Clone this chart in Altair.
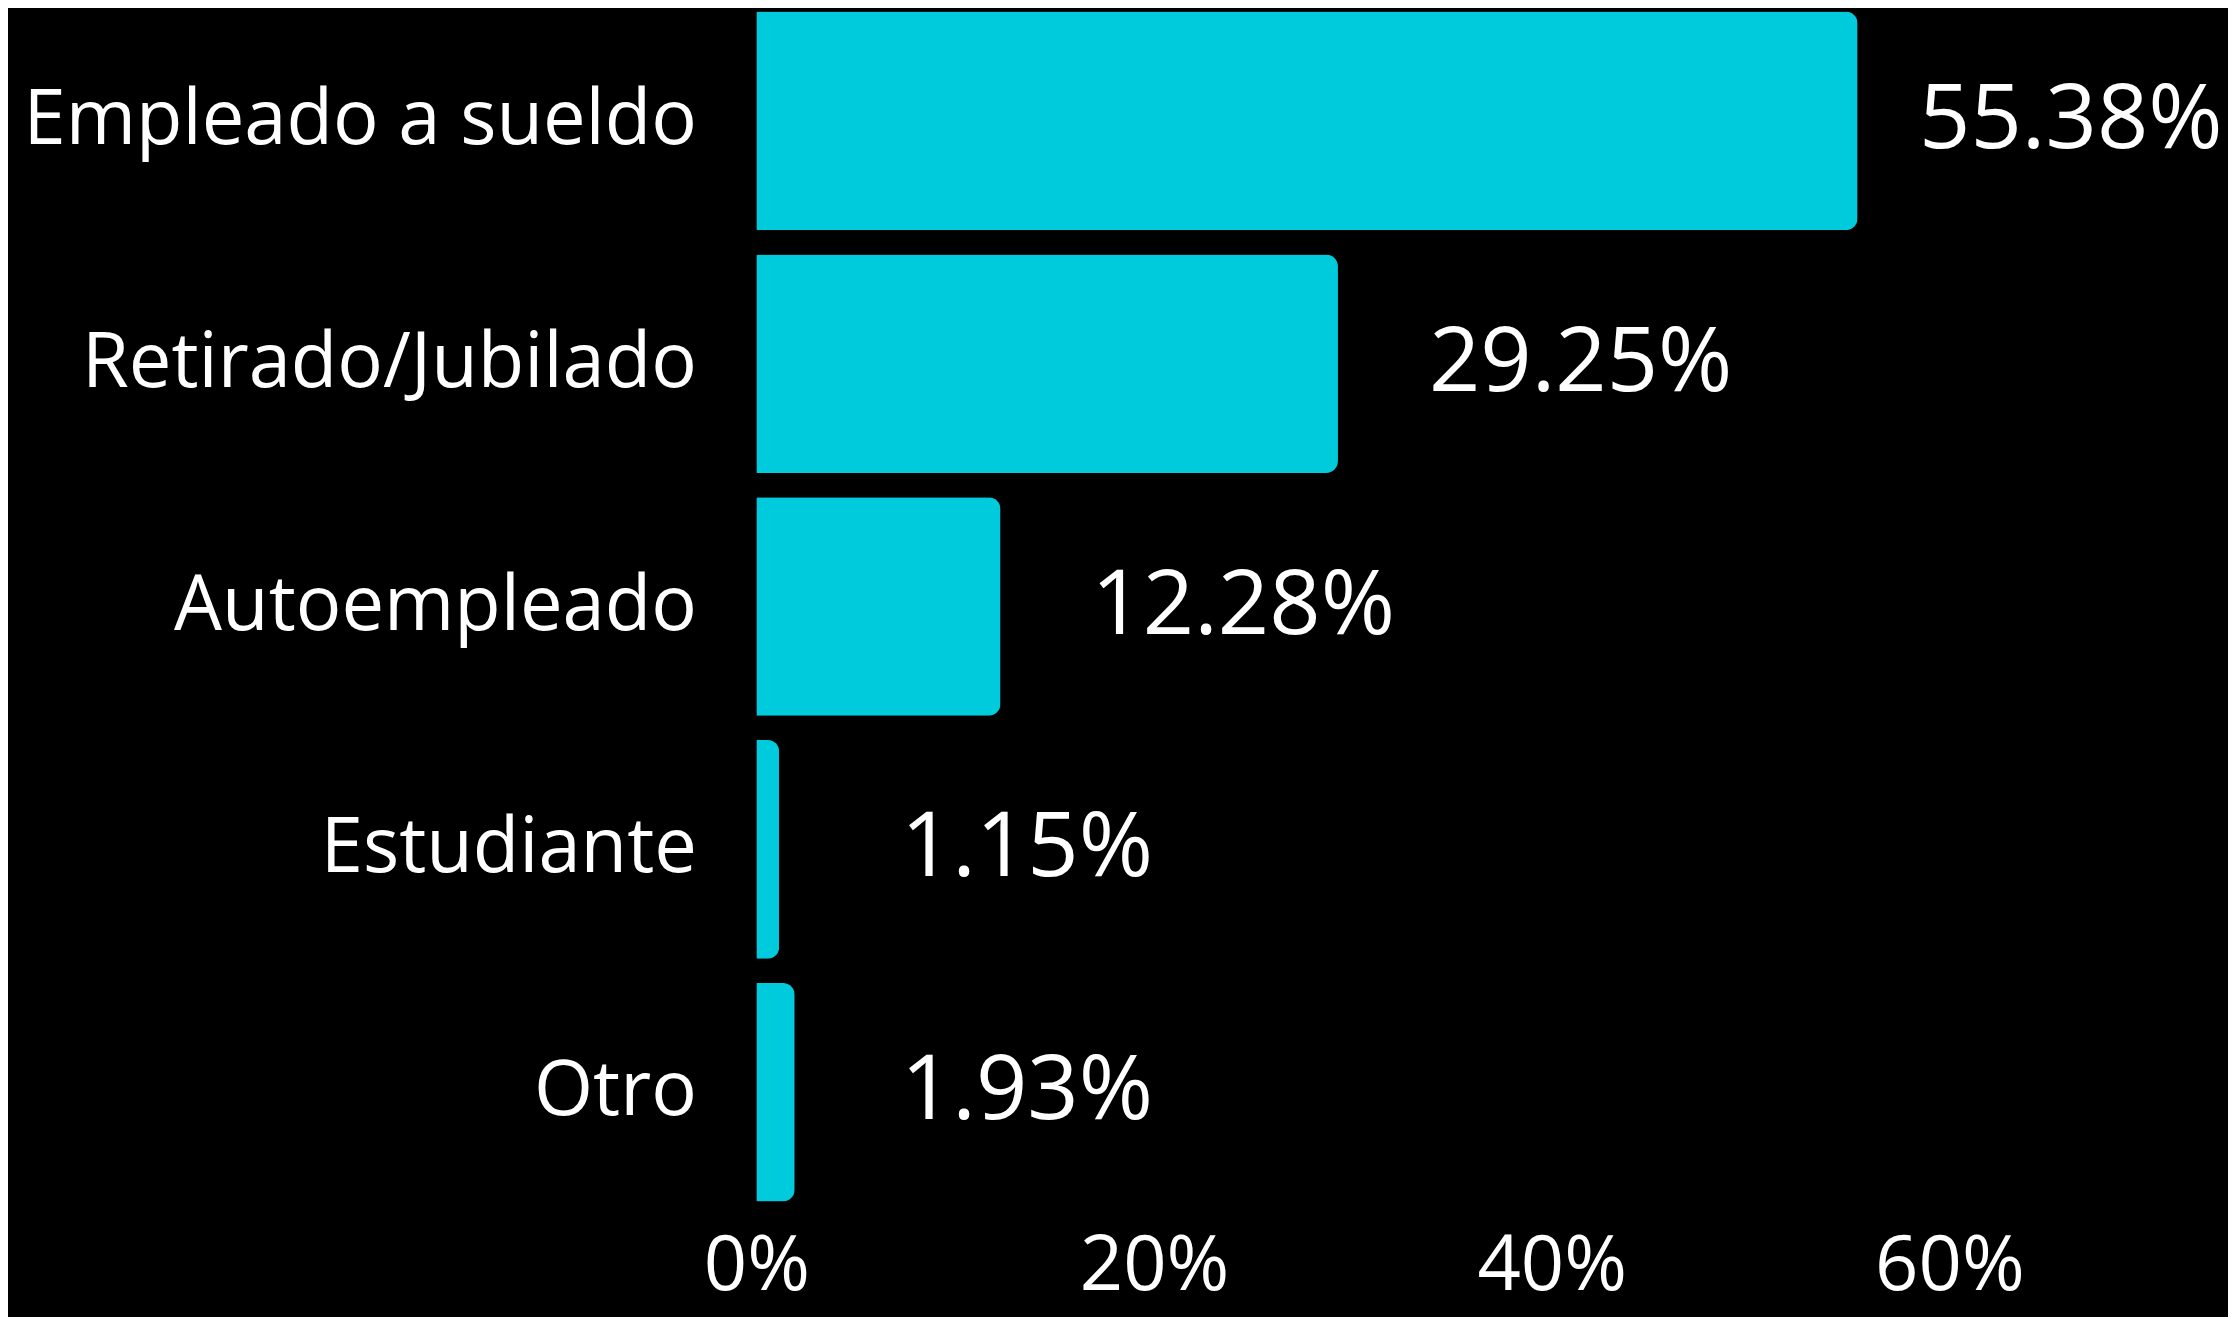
import altair as alt
import pandas as pd

categories = ["Empleado a sueldo", "Retirado/Jubilado", "Autoempleado", "Estudiante", "Otro"]
values = [55.38, 29.25, 12.28, 1.15, 1.93]
labels = ["55.38%", "29.25%", "12.28%", "1.15%", "1.93%"]
tick_values = [0, 20, 40, 60]

df = pd.DataFrame({"cat": categories, "val": values, "lab": labels})

FONT = "Open Sans"

y_enc = alt.Y("cat:N", sort=categories, title=None,
              scale=alt.Scale(paddingInner=0.1, paddingOuter=0.0),
              axis=alt.Axis(domain=False, ticks=False, labelFont=FONT, labelFontSize=76,
                            labelColor="white", labelPadding=60, labelLimit=1000))
x_scale = alt.Scale(domain=[0, 72], nice=False)

bars = alt.Chart(df).mark_bar(color="#00CBDC", cornerRadiusEnd=12).encode(
    x=alt.X("val:Q", scale=x_scale, title=None,
            axis=alt.Axis(values=tick_values, labelExpr="datum.value + '%'", domain=False,
                          ticks=False, grid=False, labelFont=FONT, labelFontSize=76,
                          labelColor="white", labelPadding=28, labelFlush=False,
                          labelOverlap=False)),
    y=y_enc,
)

# label anchor: kept clear of the thinnest bars and inside the right edge
text = alt.Chart(df).transform_calculate(
    lx="min(max(datum.val, 2.7), 53.9)"
).mark_text(align="left", baseline="middle", dx=91, font=FONT,
            fontSize=90, color="white").encode(
    x=alt.X("lx:Q", scale=x_scale),
    y=alt.Y("cat:N", sort=categories),
    text="lab:N",
)

chart = alt.layer(bars, text).properties(
    width=1433, height=1191,
    background="black",
    autosize=alt.AutoSizeParams(type="none"),
    padding={"left": 749, "top": 3, "right": 40, "bottom": 115},
).configure_view(stroke=None)

chart.save("out.html", embed_options={"renderer": "svg", "actions": False})
